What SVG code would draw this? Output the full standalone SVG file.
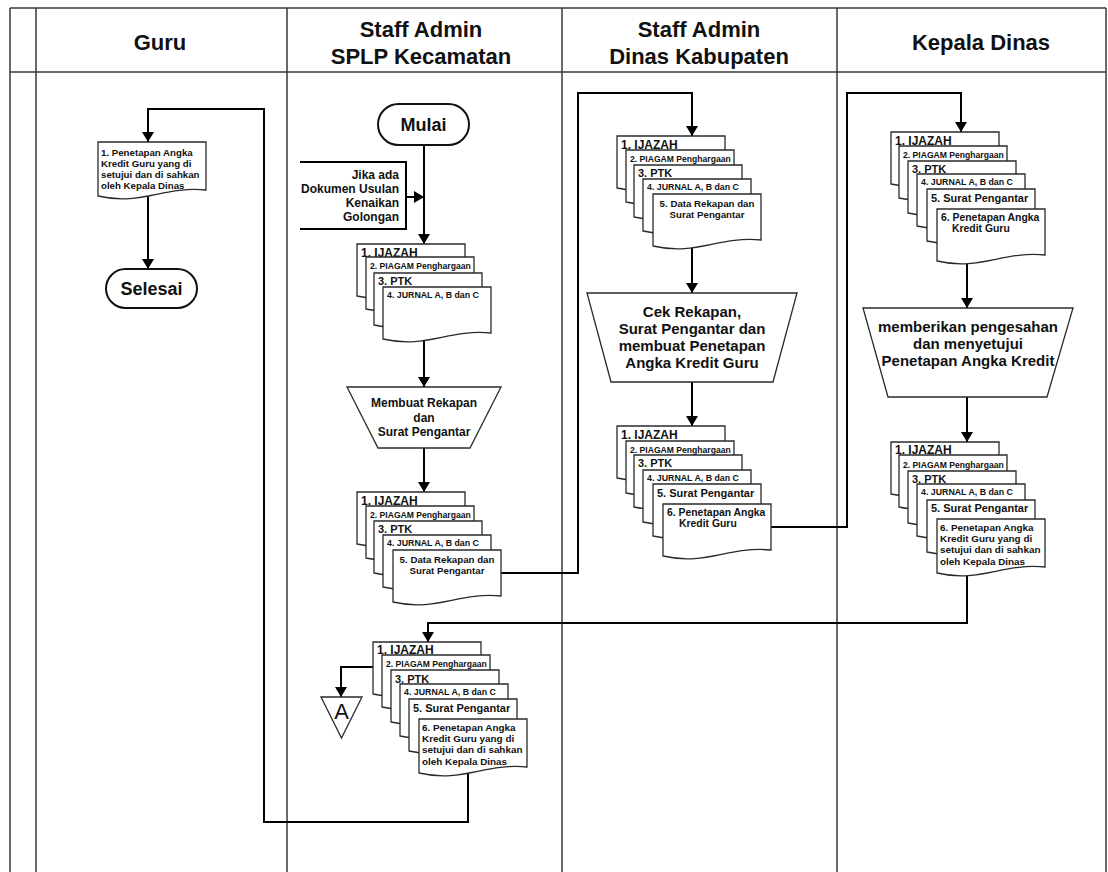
<svg xmlns="http://www.w3.org/2000/svg" width="1108" height="872" viewBox="0 0 1108 872">
  <style>
    .grid { stroke: #3a3a3a; stroke-width: 1.5; fill: none; }
    .hdr { font-family: "Liberation Sans", Arial, sans-serif; font-weight: bold; font-size: 22px; fill: #111; text-anchor: middle; }
    .wire { stroke: #000; stroke-width: 2; fill: none; }
    .arr { marker-end: url(#head); }
    .shape { fill: #fff; stroke: #2a2a2a; stroke-width: 1.3; }
    .term { fill: #fff; stroke: #111; stroke-width: 2; }
    .t { font-family: "Liberation Sans", Arial, sans-serif; font-weight: bold; fill: #111; }
    .c { text-anchor: middle; }
    .r { text-anchor: end; }
    .f12 { font-size: 12px; }
    .f11 { font-size: 11px; }
    .f9 { font-size: 8.8px; }
    .f8 { font-size: 8.6px; }
    .f97 { font-size: 9.7px; }
    .f10 { font-size: 10.4px; }
    .f99 { font-size: 9.9px; }
    .f15 { font-size: 15px; }
    .f18 { font-size: 18px; }
  </style>
  <defs>
    <marker id="head" viewBox="0 0 10 12" markerUnits="userSpaceOnUse" markerWidth="10" markerHeight="12" refX="10" refY="6" orient="auto">
      <path d="M0,0 L10,6 L0,12 Z" fill="#000"/>
    </marker>
    <!-- document sheet with wavy lower edge -->
    <path id="doc" class="shape" d="M0,0 H108 V46 C64.8,42 43.2,62 0,52 Z"/>
    <path id="docT" class="shape" d="M0,0 H108 V48 C64.8,44 43.2,64 0,54 Z"/>
  </defs>

  <rect width="1108" height="872" fill="#fff"/>

  <!-- swimlane table -->
  <g id="lanes">
    <path class="grid" d="M10,8 H1106 M10,72 H1106 M10,8 V872 M36,8 V872 M287,8 V872 M562,8 V872 M837,8 V872 M1106,8 V872"/>
    <text class="hdr" x="160" y="50">Guru</text>
    <text class="hdr" x="421" y="37">Staff Admin</text>
    <text class="hdr" x="421" y="64">SPLP Kecamatan</text>
    <text class="hdr" x="699" y="37">Staff Admin</text>
    <text class="hdr" x="699" y="64">Dinas Kabupaten</text>
    <text class="hdr" x="981" y="50">Kepala Dinas</text>
  </g>

  <!-- connectors -->
  <g id="connectors">
    <path class="wire arr" d="M424,145 V244"/>
    <path class="wire arr" d="M406,197 H424"/>
    <path class="wire arr" d="M424,335 V387"/>
    <path class="wire arr" d="M424,448 V492"/>
    <path class="wire arr" d="M501,573 H578 V93 H692 V136"/>
    <path class="wire arr" d="M692,245 V293"/>
    <path class="wire arr" d="M692,382 V426"/>
    <path class="wire arr" d="M771,527 H847 V93 H961 V132"/>
    <path class="wire arr" d="M967,260 V308"/>
    <path class="wire arr" d="M967,397 V442"/>
    <path class="wire arr" d="M967,570 V623 H428 V642"/>
    <path class="wire arr" d="M373,667 H341 V697"/>
    <path class="wire arr" d="M468,770 V822 H264 V109 H148 V142"/>
    <path class="wire arr" d="M148,196 V269"/>
  </g>

  <!-- Guru lane -->
  <g id="doc-guru">
    <use href="#docT" x="98" y="142"/>
    <text class="t f97" x="101" y="155.5">1. Penetapan Angka</text>
    <text class="t f97" x="101" y="166.7">Kredit Guru yang di</text>
    <text class="t f97" x="101" y="177.9">setujui dan di sahkan</text>
    <text class="t f97" x="101" y="189">oleh Kepala Dinas</text>
  </g>
  <g id="selesai">
    <rect class="term" x="106" y="269" width="91" height="39" rx="19.5"/>
    <text class="t c f18" x="151.5" y="295">Selesai</text>
  </g>

  <!-- SPLP Kecamatan lane -->
  <g id="mulai">
    <rect class="term" x="378" y="104" width="91" height="41" rx="20.5"/>
    <text class="t c f18" x="423.5" y="131">Mulai</text>
  </g>
  <g id="input-usulan">
    <path class="wire" d="M300,162 H406 V229 H300"/>
    <text class="t r f12" x="399" y="179">Jika ada</text>
    <text class="t r f12" x="399" y="193">Dokumen Usulan</text>
    <text class="t r f12" x="399" y="207">Kenaikan</text>
    <text class="t r f12" x="399" y="221">Golongan</text>
  </g>
  <g id="stack-berkas">
    <use href="#doc" x="357" y="244"/>
    <text class="t f12" x="361" y="257">1. IJAZAH</text>
    <use href="#doc" x="366" y="257"/>
    <text class="t f8" x="370" y="268.5">2. PIAGAM Penghargaan</text>
    <use href="#doc" x="374" y="273"/>
    <text class="t f11" x="378" y="284.5">3. PTK</text>
    <use href="#doc" x="383" y="287"/>
    <text class="t f9" x="387" y="298">4. JURNAL A, B dan C</text>
  </g>
  <g id="proses-rekap">
    <path class="shape" d="M347,387 H501 L470,448 H378 Z"/>
    <text class="t c f12" x="424" y="407">Membuat Rekapan</text>
    <text class="t c f12" x="424" y="421.5">dan</text>
    <text class="t c f12" x="424" y="435.5">Surat Pengantar</text>
  </g>
  <g id="stack-rekap">
    <use href="#doc" x="357" y="492"/>
    <text class="t f12" x="361" y="505">1. IJAZAH</text>
    <use href="#doc" x="366" y="506"/>
    <text class="t f8" x="370" y="517.5">2. PIAGAM Penghargaan</text>
    <use href="#doc" x="374" y="521"/>
    <text class="t f11" x="378" y="532.5">3. PTK</text>
    <use href="#doc" x="383" y="535"/>
    <text class="t f9" x="387" y="545.5">4. JURNAL A, B dan C</text>
    <use href="#doc" x="393" y="550"/>
    <text class="t c f97" x="447" y="562.5">5. Data Rekapan dan</text>
    <text class="t c f97" x="447" y="573.5">Surat Pengantar</text>
  </g>
  <g id="stack-pak-final">
    <use href="#doc" x="373" y="642"/>
    <text class="t f12" x="377" y="654">1. IJAZAH</text>
    <use href="#doc" x="382" y="655"/>
    <text class="t f8" x="386" y="667">2. PIAGAM Penghargaan</text>
    <use href="#doc" x="391" y="670"/>
    <text class="t f11" x="395" y="682.5">3. PTK</text>
    <use href="#doc" x="400" y="684"/>
    <text class="t f9" x="404" y="694.5">4. JURNAL A, B dan C</text>
    <use href="#doc" x="409" y="699"/>
    <text class="t f11" x="413" y="712">5. Surat Pengantar</text>
    <use href="#docT" x="419" y="719"/>
    <text class="t f99" x="422" y="731">6. Penetapan Angka</text>
    <text class="t f99" x="422" y="742.2">Kredit Guru yang di</text>
    <text class="t f99" x="422" y="753.4">setujui dan di sahkan</text>
    <text class="t f99" x="422" y="764.6">oleh Kepala Dinas</text>
  </g>
  <g id="offpage-a">
    <path class="shape" d="M321,697 H362 L341.5,738 Z"/>
    <text x="341.5" y="718.5" font-family="Liberation Sans, Arial, sans-serif" font-size="22" text-anchor="middle" fill="#111">A</text>
  </g>

  <!-- Dinas Kabupaten lane -->
  <g id="stack-terima-dinas">
    <use href="#doc" x="617" y="136"/>
    <text class="t f12" x="621" y="149">1. IJAZAH</text>
    <use href="#doc" x="626" y="150"/>
    <text class="t f8" x="630" y="161.5">2. PIAGAM Penghargaan</text>
    <use href="#doc" x="634" y="165"/>
    <text class="t f11" x="638" y="176.5">3. PTK</text>
    <use href="#doc" x="643" y="179"/>
    <text class="t f9" x="647" y="189.5">4. JURNAL A, B dan C</text>
    <use href="#doc" x="653" y="194"/>
    <text class="t c f97" x="707" y="206.5">5. Data Rekapan dan</text>
    <text class="t c f97" x="707" y="217.5">Surat Pengantar</text>
  </g>
  <g id="proses-cek">
    <path class="shape" d="M587,293 H797 L773,382 H611 Z"/>
    <text class="t c f15" x="692" y="317">Cek Rekapan,</text>
    <text class="t c f15" x="692" y="334">Surat Pengantar dan</text>
    <text class="t c f15" x="692" y="351">membuat Penetapan</text>
    <text class="t c f15" x="692" y="367.5">Angka Kredit Guru</text>
  </g>
  <g id="stack-pak-draft">
    <use href="#doc" x="617" y="426"/>
    <text class="t f12" x="621" y="438.5">1. IJAZAH</text>
    <use href="#doc" x="626" y="441"/>
    <text class="t f8" x="630" y="452.5">2. PIAGAM Penghargaan</text>
    <use href="#doc" x="634" y="455"/>
    <text class="t f11" x="638" y="467">3. PTK</text>
    <use href="#doc" x="643" y="470"/>
    <text class="t f9" x="647" y="480.5">4. JURNAL A, B dan C</text>
    <use href="#doc" x="653" y="484"/>
    <text class="t f11" x="657" y="496.5">5. Surat Pengantar</text>
    <use href="#doc" x="663" y="504"/>
    <text class="t f10" x="667" y="515.5">6. Penetapan Angka</text>
    <text class="t f10" x="679" y="527">Kredit Guru</text>
  </g>

  <!-- Kepala Dinas lane -->
  <g id="stack-terima-kadis">
    <use href="#doc" x="891" y="132"/>
    <text class="t f12" x="895" y="144.5">1. IJAZAH</text>
    <use href="#doc" x="899" y="146"/>
    <text class="t f8" x="903" y="157.5">2. PIAGAM Penghargaan</text>
    <use href="#doc" x="908" y="161"/>
    <text class="t f11" x="912" y="172.5">3. PTK</text>
    <use href="#doc" x="917" y="174"/>
    <text class="t f9" x="921" y="185">4. JURNAL A, B dan C</text>
    <use href="#doc" x="927" y="189"/>
    <text class="t f11" x="931" y="201.5">5. Surat Pengantar</text>
    <use href="#doc" x="937" y="209"/>
    <text class="t f10" x="941" y="221">6. Penetapan Angka</text>
    <text class="t f10" x="952" y="232">Kredit Guru</text>
  </g>
  <g id="proses-sahkan">
    <path class="shape" d="M863,308 H1073 L1047,397 H888 Z"/>
    <text class="t c f15" x="968" y="332">memberikan pengesahan</text>
    <text class="t c f15" x="968" y="348.5">dan menyetujui</text>
    <text class="t c f15" x="968" y="365.5">Penetapan Angka Kredit</text>
  </g>
  <g id="stack-pak-sah">
    <use href="#doc" x="891" y="442"/>
    <text class="t f12" x="895" y="454">1. IJAZAH</text>
    <use href="#doc" x="899" y="455"/>
    <text class="t f8" x="903" y="467.5">2. PIAGAM Penghargaan</text>
    <use href="#doc" x="908" y="471"/>
    <text class="t f11" x="912" y="483">3. PTK</text>
    <use href="#doc" x="917" y="484"/>
    <text class="t f9" x="921" y="495">4. JURNAL A, B dan C</text>
    <use href="#doc" x="927" y="500"/>
    <text class="t f11" x="931" y="512">5. Surat Pengantar</text>
    <use href="#docT" x="937" y="519"/>
    <text class="t f99" x="940" y="531">6. Penetapan Angka</text>
    <text class="t f99" x="940" y="542.2">Kredit Guru yang di</text>
    <text class="t f99" x="940" y="553.4">setujui dan di sahkan</text>
    <text class="t f99" x="940" y="564.6">oleh Kepala Dinas</text>
  </g>
</svg>
